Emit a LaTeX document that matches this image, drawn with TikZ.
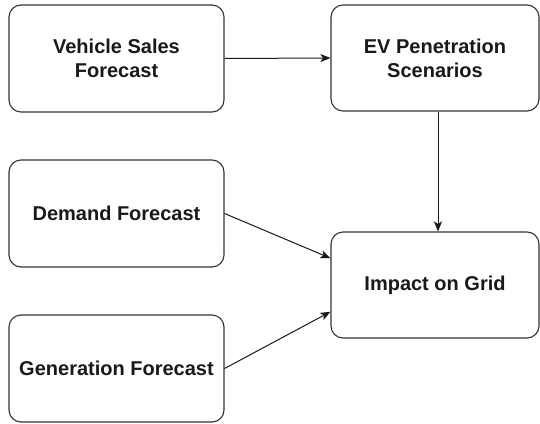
\documentclass[tikz,border=0pt]{standalone}
\usepackage{fontspec}
\setmainfont{Liberation Sans}
\usetikzlibrary{arrows.meta,calc}
\begin{document}
\begin{tikzpicture}[x=1pt,y=-1pt,
  box/.style={draw=black!80, line width=1.1pt, rounded corners=12pt, fill=white, align=center,
    font=\fontsize{20}{24}\selectfont\bfseries, text=black!90, inner sep=0pt},
  conn/.style={draw=black!90, line width=1pt, -{Stealth[length=10pt,width=8pt,inset=2.5pt]}}]
\useasboundingbox (0,0) rectangle (540,423);
\node[box, minimum width=215pt, minimum height=107pt] (vsf) at (116.5,58.5) {Vehicle Sales\\Forecast};
\node[box, minimum width=208pt, minimum height=106pt] (ev) at (435,58) {EV Penetration\\Scenarios};
\node[box, minimum width=215pt, minimum height=107pt] (dem) at (116.5,213.5) {Demand Forecast};
\node[box, minimum width=208pt, minimum height=106pt] (grid) at (435,285) {Impact on Grid};
\node[box, minimum width=215pt, minimum height=107pt] (gen) at (116.5,368.5) {Generation Forecast};
\coordinate (g1) at ($(grid.north west)!0.25!(grid.south west)$);
\coordinate (g2) at ($(grid.north west)!0.75!(grid.south west)$);
\coordinate (evb) at ($(ev.south)+(3,0)$);
\coordinate (gt) at ($(grid.north)+(3,0)$);
\draw[conn] (vsf.east) -- (ev.west);
\draw[conn] (evb) -- (gt);
\draw[conn] (dem.east) -- (g1);
\draw[conn] (gen.east) -- (g2);
\end{tikzpicture}
\end{document}
